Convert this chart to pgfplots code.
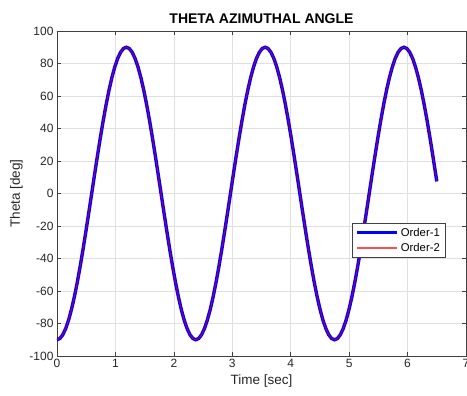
\documentclass[border=0pt]{standalone}
\usepackage{pgfplots}
\pgfplotsset{compat=1.18}
\usepackage{pgfplotstable}
\usepackage{fontspec}
\setmainfont{Liberation Sans}

% time [s], theta from the first- and second-order solutions [deg]
\pgfplotstableread{
t      o1      o2
0.0000 -90.00 -90.00
0.0495 -89.23 -89.23
0.0990 -86.93 -86.93
0.1484 -83.15 -83.15
0.1979 -77.94 -77.94
0.2474 -71.40 -71.40
0.2969 -63.64 -63.64
0.3464 -54.79 -54.79
0.3958 -45.00 -45.00
0.4453 -34.44 -34.44
0.4948 -23.29 -23.29
0.5443 -11.75 -11.75
0.5938 0.00 0.00
0.6432 11.75 11.75
0.6927 23.29 23.29
0.7422 34.44 34.44
0.7917 45.00 45.00
0.8411 54.79 54.79
0.8906 63.64 63.64
0.9401 71.40 71.40
0.9896 77.94 77.94
1.0391 83.15 83.15
1.0885 86.93 86.93
1.1380 89.23 89.23
1.1875 90.00 90.00
1.2370 89.23 89.23
1.2865 86.93 86.93
1.3359 83.15 83.15
1.3854 77.94 77.94
1.4349 71.40 71.40
1.4844 63.64 63.64
1.5339 54.79 54.79
1.5833 45.00 45.00
1.6328 34.44 34.44
1.6823 23.29 23.29
1.7318 11.75 11.75
1.7813 0.00 0.00
1.8307 -11.75 -11.75
1.8802 -23.29 -23.29
1.9297 -34.44 -34.44
1.9792 -45.00 -45.00
2.0286 -54.79 -54.79
2.0781 -63.64 -63.64
2.1276 -71.40 -71.40
2.1771 -77.94 -77.94
2.2266 -83.15 -83.15
2.2760 -86.93 -86.93
2.3255 -89.23 -89.23
2.3750 -90.00 -90.00
2.4245 -89.23 -89.23
2.4740 -86.93 -86.93
2.5234 -83.15 -83.15
2.5729 -77.94 -77.94
2.6224 -71.40 -71.40
2.6719 -63.64 -63.64
2.7214 -54.79 -54.79
2.7708 -45.00 -45.00
2.8203 -34.44 -34.44
2.8698 -23.29 -23.29
2.9193 -11.75 -11.75
2.9688 0.00 0.00
3.0182 11.75 11.75
3.0677 23.29 23.29
3.1172 34.44 34.44
3.1667 45.00 45.00
3.2161 54.79 54.79
3.2656 63.64 63.64
3.3151 71.40 71.40
3.3646 77.94 77.94
3.4141 83.15 83.15
3.4635 86.93 86.93
3.5130 89.23 89.23
3.5625 90.00 90.00
3.6120 89.23 89.23
3.6615 86.93 86.93
3.7109 83.15 83.15
3.7604 77.94 77.94
3.8099 71.40 71.40
3.8594 63.64 63.64
3.9089 54.79 54.79
3.9583 45.00 45.00
4.0078 34.44 34.44
4.0573 23.29 23.29
4.1068 11.75 11.75
4.1563 0.00 0.00
4.2057 -11.75 -11.75
4.2552 -23.29 -23.29
4.3047 -34.44 -34.44
4.3542 -45.00 -45.00
4.4036 -54.79 -54.79
4.4531 -63.64 -63.64
4.5026 -71.40 -71.40
4.5521 -77.94 -77.94
4.6016 -83.15 -83.15
4.6510 -86.93 -86.93
4.7005 -89.23 -89.23
4.7500 -90.00 -90.00
4.7995 -89.23 -89.23
4.8490 -86.93 -86.93
4.8984 -83.15 -83.15
4.9479 -77.94 -77.94
4.9974 -71.40 -71.40
5.0469 -63.64 -63.64
5.0964 -54.79 -54.79
5.1458 -45.00 -45.00
5.1953 -34.44 -34.44
5.2448 -23.29 -23.29
5.2943 -11.75 -11.75
5.3438 0.00 0.00
5.3932 11.75 11.75
5.4427 23.29 23.29
5.4922 34.44 34.44
5.5417 45.00 45.00
5.5911 54.79 54.79
5.6406 63.64 63.64
5.6901 71.40 71.40
5.7396 77.94 77.94
5.7891 83.15 83.15
5.8385 86.93 86.93
5.8880 89.23 89.23
5.9375 90.00 90.00
5.9870 89.23 89.23
6.0365 86.93 86.93
6.0859 83.15 83.15
6.1354 77.94 77.94
6.1849 71.40 71.40
6.2344 63.64 63.64
6.2839 54.79 54.79
6.3333 45.00 45.00
6.3828 34.44 34.44
6.4323 23.29 23.29
6.4818 11.75 11.75
6.5000 7.44 7.44
}\thetadata

\definecolor{axgray}{gray}{0.25}
\definecolor{gridgray}{gray}{0.88}
\definecolor{ordtwo}{rgb}{1,0.3,0.3}

\begin{document}
\begin{tikzpicture}
\begin{axis}[
  name=ax,
  scale only axis,
  width=409pt, height=325pt,
  xmin=0, xmax=7, ymin=-100, ymax=100,
  xtick={0,1,...,7},
  ytick={-100,-80,...,100},
  grid=major,
  grid style={gridgray, line width=0.5pt},
  axis line style={axgray, line width=0.6pt},
  tick style={axgray, line width=0.6pt},
  tick align=inside,
  major tick length=4pt,
  tick label style={font=\fontsize{12}{14}\selectfont, text=black!85},
  /pgf/number format/assume math mode=true,
  title={\bfseries THETA AZIMUTHAL ANGLE},
  title style={font=\fontsize{14}{16}\selectfont, yshift=-2pt},
  xlabel={Time [sec]},
  ylabel={Theta [deg]},
  label style={font=\fontsize{13.5}{15}\selectfont, text=black!85},
  legend cell align=left,
  legend style={
    at={(rel axis cs:0.949,0.409)}, anchor=north east,
    font=\fontsize{11.3}{13}\selectfont,
    draw=axgray, fill=white, line width=0.6pt,
    inner xsep=3pt, inner ysep=2.5pt, row sep=1.5pt,
  },
  legend image code/.code={\draw[#1] plot coordinates {(0pt,0pt) (40pt,0pt)};},
]
\addplot[draw=blue, line width=3.4pt] table[x=t, y=o1] {\thetadata};
\addlegendentry{Order-1}
\addplot[draw=red, line width=1pt, draw opacity=0.6, forget plot] table[x=t, y=o2] {\thetadata};
\addlegendimage{draw=ordtwo, line width=1.2pt}
\addlegendentry{Order-2}
\end{axis}
\pgfresetboundingbox
\path[use as bounding box] ([shift={(-57pt,-39pt)}]ax.south west) rectangle ([shift={(1pt,31pt)}]ax.north east);
\end{tikzpicture}
\end{document}
